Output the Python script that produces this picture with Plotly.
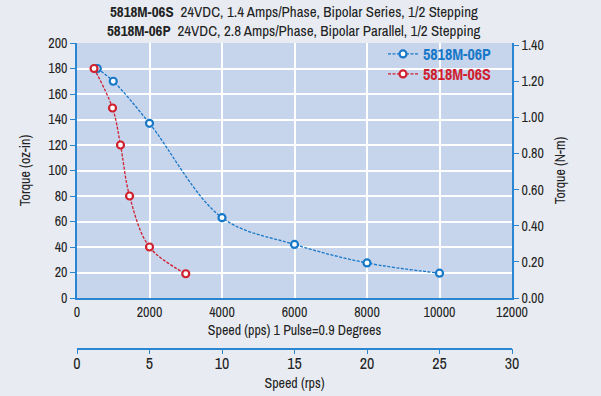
import plotly.graph_objects as go

# ---- data ----
speed_p = [560, 1000, 2000, 4000, 6000, 8000, 10000]
torque_p = [180, 170, 137, 63, 42, 27.5, 19.5]
speed_s = [470, 980, 1200, 1450, 2000, 3000]
torque_s = [180, 149, 120, 80, 40, 19]
name_p = "5818M-06P"
name_s = "5818M-06S"
x_ticks = [0, 2000, 4000, 6000, 8000, 10000, 12000]
rps_ticks = [0, 5, 10, 15, 20, 25, 30]
left_ticks = [0, 20, 40, 60, 80, 100, 120, 140, 160, 180, 200]
right_ticks = [0.0, 0.2, 0.4, 0.6, 0.8, 1.0, 1.2, 1.4]
title1 = "<b>5818M-06S</b>\u00a0\u00a024VDC, 1.4 Amps/Phase, Bipolar Series, 1/2 Stepping"
title2 = "<b>5818M-06P</b>\u00a0\u00a024VDC, 2.8 Amps/Phase, Bipolar Parallel, 1/2 Stepping"
OZIN_TO_NM = 0.00706155

BLUE = "#1778c8"
RED = "#d0202e"
AXIS = "#2a86d0"
FONT = "Archivo Narrow, PT Sans Narrow, Roboto Condensed, Liberation Sans, sans-serif"

fig = go.Figure()
fig.add_trace(go.Scatter(
    x=speed_p, y=torque_p, mode="lines+markers", legend="legend",
    name=f'<span style="color:{BLUE}"><b>{name_p}</b></span>',
    line=dict(color=BLUE, width=1.3, shape="spline", smoothing=1.0, dash="3px,1.5px"),
    marker=dict(symbol="circle", size=7, color="white", line=dict(color=BLUE, width=2.2)),
))
fig.add_trace(go.Scatter(
    x=speed_s, y=torque_s, mode="lines+markers", legend="legend2",
    name=f'<span style="color:{RED}"><b>{name_s}</b></span>',
    line=dict(color=RED, width=1.3, shape="spline", smoothing=1.0, dash="3px,1.5px"),
    marker=dict(symbol="circle", size=7, color="white", line=dict(color=RED, width=2.2)),
))
# invisible helpers so the secondary axes are drawn
fig.add_trace(go.Scatter(x=[0, 30], y=[None, None], xaxis="x2", yaxis="y",
                         showlegend=False, hoverinfo="skip", mode="markers"))
fig.add_trace(go.Scatter(x=[None, None], y=[0, 1.4], xaxis="x", yaxis="y2",
                         showlegend=False, hoverinfo="skip", mode="markers"))

W, H = 601, 396
left, right = 77, 512
top, bottom_px, paper_bottom = 43, 298, 376
paper_h = paper_bottom - top
plot_w = right - left
dom_bottom = (paper_bottom - bottom_px) / paper_h
def py(p):
    return (paper_bottom - p) / paper_h
def px(p):
    return (p - left) / plot_w

tickfont = dict(family=FONT, size=14, color="#222")
titlefont = dict(family=FONT, size=14, color="#222")
legfont = dict(family=FONT, size=16)

fig.update_layout(
    width=W, height=H,
    margin=dict(l=left, r=W - right, t=top, b=H - paper_bottom),
    paper_bgcolor="#e8ecf2",
    plot_bgcolor="#c6d4ec",
    font=dict(family=FONT, size=14, color="#222"),
    showlegend=True,
    legend=dict(x=px(383), y=py(54), xanchor="left", yanchor="middle",
                bgcolor="rgba(0,0,0,0)", font=legfont, itemwidth=30),
    legend2=dict(x=px(383), y=py(74), xanchor="left", yanchor="middle",
                 bgcolor="rgba(0,0,0,0)", font=legfont, itemwidth=30),
    xaxis=dict(range=[0, 12000], tickvals=x_ticks, ticktext=[str(v) for v in x_ticks],
               showgrid=True, gridcolor="white", automargin=False,
               gridwidth=1.5, showline=True, linecolor=AXIS, linewidth=1.5,
               ticks="", tickfont=tickfont, zeroline=False,
               title=dict(text="Speed (pps) 1 Pulse=0.9 Degrees", font=titlefont, standoff=4),
               domain=[0, 1], anchor="y"),
    xaxis2=dict(range=[0, 30], tickvals=rps_ticks, ticktext=[str(v) for v in rps_ticks],
                showgrid=False, showline=True, overlaying="x", automargin=False,
                linecolor=AXIS, linewidth=1.5, ticks="outside", ticklen=5, tickcolor=AXIS,
                tickfont=dict(family=FONT, size=16, color="#222"), side="bottom",
                ticklabelstandoff=-4,
                anchor="free", position=py(348.5), zeroline=False,
                title=dict(text="Speed (rps)", font=titlefont, standoff=4)),
    yaxis=dict(range=[0, 200], tickvals=left_ticks, showgrid=True, gridcolor="white",
               gridwidth=1.5, showline=True, linecolor=AXIS, linewidth=1.5, automargin=False,
               ticks="outside", ticklen=5, tickcolor=AXIS, tickfont=tickfont,
               zeroline=False, domain=[dom_bottom, 1],
               title=dict(text="Torque (oz-in)", font=titlefont, standoff=14)),
    yaxis2=dict(range=[0, 200 * OZIN_TO_NM], tickvals=right_ticks, tickformat=".2f",
                overlaying="y", side="right", showgrid=False, showline=True, automargin=False,
                linecolor=AXIS, linewidth=1.5, ticks="outside", ticklen=5,
                tickcolor=AXIS, tickfont=tickfont, zeroline=False, anchor="x",
                title=dict(text="Torque (N-m)", font=titlefont, standoff=12)),
)

fig.add_annotation(text=title1, xref="paper", yref="paper", x=px(294),
                   y=py(12), showarrow=False, xanchor="center", yanchor="middle",
                   font=dict(family=FONT, size=15, color="#222"))
fig.add_annotation(text=title2, xref="paper", yref="paper", x=px(294),
                   y=py(30), showarrow=False, xanchor="center", yanchor="middle",
                   font=dict(family=FONT, size=15, color="#222"))

fig.write_html("out.html", config={"displayModeBar": False},
               post_script="document.body.style.margin='0';document.body.style.background='#e8ecf2';")
